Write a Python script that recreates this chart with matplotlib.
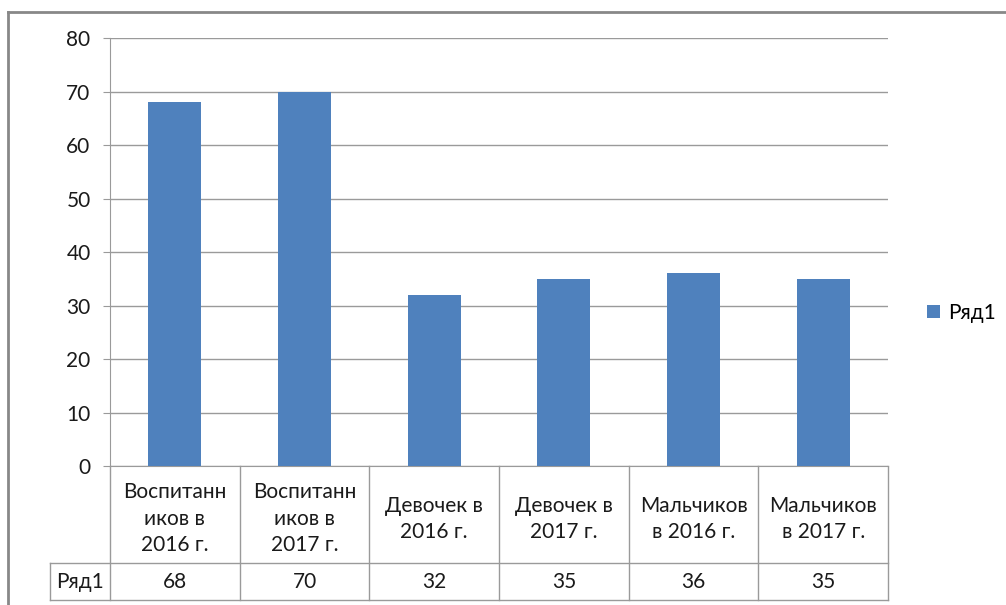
import matplotlib.pyplot as plt
from matplotlib.lines import Line2D
import matplotlib.transforms as mtransforms

plt.rcParams['font.family'] = ['Lato', 'DejaVu Sans']

# Chart data
categories = ['Воспитанн\nиков в\n2016 г.', 'Воспитанн\nиков в\n2017 г.',
              'Девочек в\n2016 г.', 'Девочек в\n2017 г.',
              'Мальчиков\nв 2016 г.', 'Мальчиков\nв 2017 г.']
values = [68, 70, 32, 35, 36, 35]
series_name = 'Ряд1'
y_ticks = [0, 10, 20, 30, 40, 50, 60, 70, 80]

W, H = 1006, 605
bar_color = '#4F81BD'
line_color = '#9a9a9a'
text_color = '#1a1a1a'
fs = 15

fig = plt.figure(figsize=(W / 100, H / 100), dpi=100)
ax = fig.add_axes([110 / W, 1 - 466 / H, 778 / W, 428 / H])

x = list(range(len(categories)))
bars = ax.bar(x, values, width=0.41, color=bar_color, label=series_name, zorder=3)

ax.set_xlim(-0.5, len(categories) - 0.5)
ax.set_ylim(0, 80)
ax.set_yticks(y_ticks)
ax.yaxis.grid(True, color=line_color, linewidth=1)
ax.set_axisbelow(True)
ax.tick_params(axis='y', length=5, color=line_color, labelsize=fs,
               labelcolor=text_color, pad=9)
ax.set_xticks([])
for side in ['top', 'right']:
    ax.spines[side].set_visible(False)
ax.spines['left'].set_color(line_color)
ax.spines['bottom'].set_color(line_color)

# Data table below the axis
row1 = -(563 - 466) / 428
row2 = -(600 - 466) / 428
label_x = (50 - 110) / 778
trans = mtransforms.blended_transform_factory(ax.transData, ax.transAxes)
kw = dict(color=line_color, linewidth=1, clip_on=False)

for i in range(len(categories) + 1):
    ax.plot([i - 0.5, i - 0.5], [0, row2], transform=trans, **kw)
ax.plot([label_x, 1], [row1, row1], transform=ax.transAxes, **kw)
ax.plot([label_x, 1], [row2, row2], transform=ax.transAxes, **kw)
ax.plot([label_x, label_x], [row1, row2], transform=ax.transAxes, **kw)

for i, (cat, val) in enumerate(zip(categories, values)):
    ax.text(i, row1 / 2 - 0.01, cat, transform=trans, ha='center', va='center',
            fontsize=fs, color=text_color, linespacing=1.4)
    ax.text(i, (row1 + row2) / 2, str(val), transform=trans, ha='center',
            va='center', fontsize=fs, color=text_color)
ax.text(label_x / 2, (row1 + row2) / 2, series_name, transform=ax.transAxes,
        ha='center', va='center', fontsize=fs, color=text_color)

# Legend
fig.legend(handles=[bars], labels=[series_name], loc='center left',
           bbox_to_anchor=(927 / W, 1 - 313 / H), frameon=False,
           borderpad=0, borderaxespad=0,
           handlelength=0.6, handleheight=0.6, handletextpad=0.4,
           prop={'size': fs})

# Outer chart border (top and left visible)
fig.add_artist(Line2D([8 / W, 8 / W], [0, 1 - 12 / H], transform=fig.transFigure,
                      color='#888888', linewidth=2))
fig.add_artist(Line2D([8 / W, 1], [1 - 12 / H, 1 - 12 / H], transform=fig.transFigure,
                      color='#888888', linewidth=2))

fig.savefig('out.png', dpi=100)
